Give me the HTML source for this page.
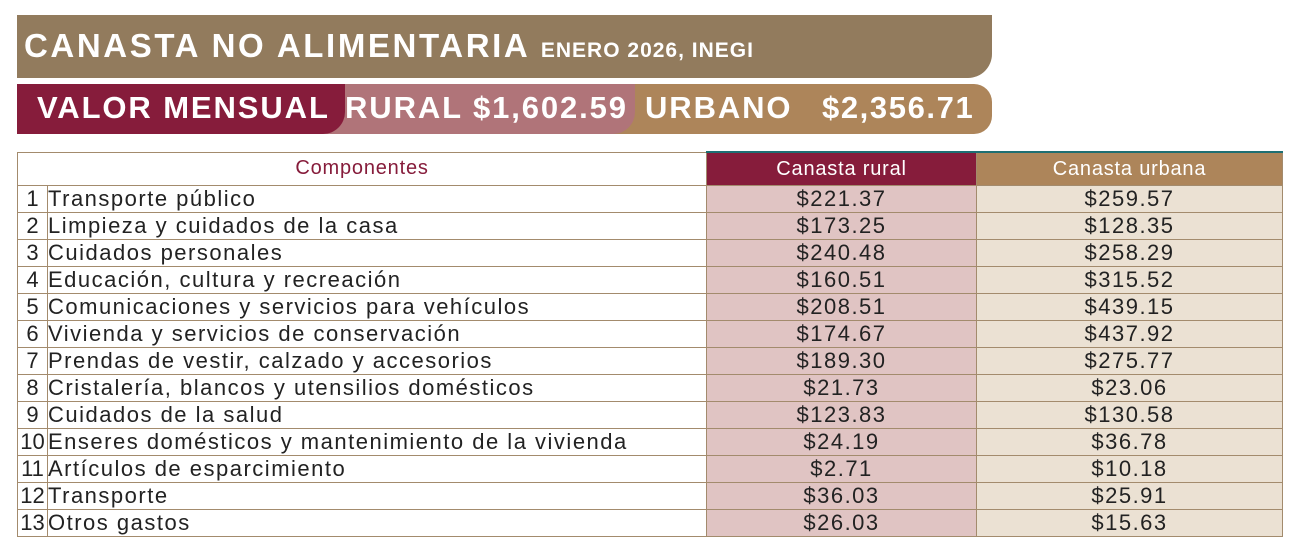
<!DOCTYPE html>
<html><head><meta charset="utf-8"><style>
body{margin:0;width:1292px;height:544px;background:#fff;font-family:"Liberation Sans",sans-serif;position:relative;overflow:hidden}
.b{position:absolute;color:#fff;font-weight:bold;white-space:nowrap;letter-spacing:1.9px}
table{position:absolute;left:17px;top:151px;border-collapse:collapse;table-layout:fixed;width:1265px;font-size:22px;color:#222;letter-spacing:1.5px}
td{border:1px solid #a38b6d;height:26px;padding:0;line-height:26px;white-space:nowrap}
td.n{text-align:center;letter-spacing:0}
td.r{background:#e0c4c3;text-align:center}
td.u{background:#ebe1d3;text-align:center}
th{height:32px;padding:0;font-weight:normal;font-size:20px;border:1px solid #a38b6d;letter-spacing:0.8px}
</style></head><body>
<div style="position:absolute;left:17px;top:15px;width:975px;height:63px;background:#927b5d;border-radius:0 0 24px 0"></div>
<div class="b" style="left:24px;top:26px;font-size:33px;line-height:40px;letter-spacing:2.6px">CANASTA NO ALIMENTARIA <span style="font-size:21px;letter-spacing:1px">ENERO 2026, INEGI</span></div>
<div style="position:absolute;left:17px;top:84px;width:975px;height:50px;background:#ad855a;border-radius:0 18px 18px 0"></div>
<div style="position:absolute;left:17px;top:84px;width:618px;height:50px;background:#b07479;border-radius:0 0 22px 0"></div>
<div style="position:absolute;left:17px;top:84px;width:328px;height:50px;background:#861c3b;border-radius:0 0 22px 0"></div>
<div class="b" style="left:37px;top:88px;font-size:31px;line-height:40px">VALOR MENSUAL</div>
<div class="b" style="left:345px;top:88px;font-size:31px;line-height:40px">RURAL $1,602.59</div>
<div class="b" style="left:645px;top:88px;font-size:31px;line-height:40px">URBANO</div>
<div class="b" style="left:822px;top:88px;font-size:31px;line-height:40px;letter-spacing:1.6px">$2,356.71</div>
<table>
<colgroup><col style="width:30px"><col style="width:659px"><col style="width:270px"><col style="width:306px"></colgroup>
<tr><th colspan="2" style="color:#861c3b">Componentes</th><th style="background:#861c3b;color:#fff;border-top:2px solid #1d6f73">Canasta rural</th><th style="background:#ad855a;color:#fff;border-top:2px solid #1d6f73">Canasta urbana</th></tr>
<tr><td class="n">1</td><td>Transporte público</td><td class="r">$221.37</td><td class="u">$259.57</td></tr>
<tr><td class="n">2</td><td>Limpieza y cuidados de la casa</td><td class="r">$173.25</td><td class="u">$128.35</td></tr>
<tr><td class="n">3</td><td>Cuidados personales</td><td class="r">$240.48</td><td class="u">$258.29</td></tr>
<tr><td class="n">4</td><td>Educación, cultura y recreación</td><td class="r">$160.51</td><td class="u">$315.52</td></tr>
<tr><td class="n">5</td><td>Comunicaciones y servicios para vehículos</td><td class="r">$208.51</td><td class="u">$439.15</td></tr>
<tr><td class="n">6</td><td>Vivienda y servicios de conservación</td><td class="r">$174.67</td><td class="u">$437.92</td></tr>
<tr><td class="n">7</td><td>Prendas de vestir, calzado y accesorios</td><td class="r">$189.30</td><td class="u">$275.77</td></tr>
<tr><td class="n">8</td><td>Cristalería, blancos y utensilios domésticos</td><td class="r">$21.73</td><td class="u">$23.06</td></tr>
<tr><td class="n">9</td><td>Cuidados de la salud</td><td class="r">$123.83</td><td class="u">$130.58</td></tr>
<tr><td class="n">10</td><td>Enseres domésticos y mantenimiento de la vivienda</td><td class="r">$24.19</td><td class="u">$36.78</td></tr>
<tr><td class="n">11</td><td>Artículos de esparcimiento</td><td class="r">$2.71</td><td class="u">$10.18</td></tr>
<tr><td class="n">12</td><td>Transporte</td><td class="r">$36.03</td><td class="u">$25.91</td></tr>
<tr><td class="n">13</td><td>Otros gastos</td><td class="r">$26.03</td><td class="u">$15.63</td></tr>
</table>
</body></html>
